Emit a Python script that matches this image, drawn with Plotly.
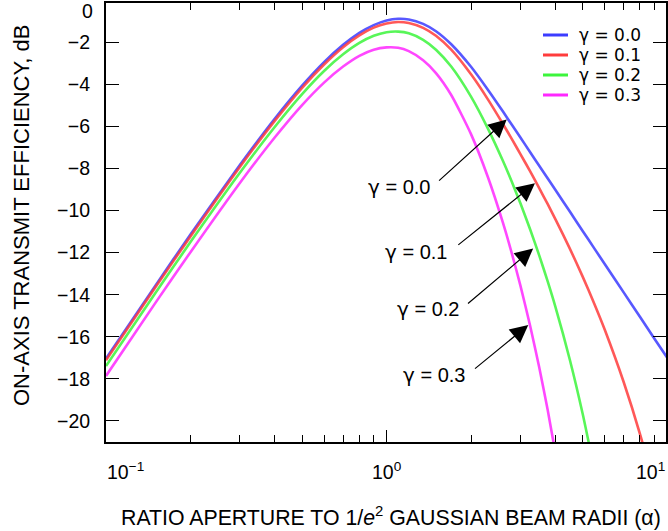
import math
import plotly.graph_objects as go

# Aperture-to-beam radius ratio (alpha) sample points
alpha = [0.1, 0.15, 0.2, 0.3, 0.4, 0.5, 0.6, 0.7, 0.8, 0.9, 1.0, 1.1, 1.2, 1.35,
         1.5, 1.7, 2.0, 2.3, 2.6, 2.8, 3.0, 3.25, 3.5, 3.75, 4.0, 4.5, 5.0, 5.5,
         6.0, 7.0, 8.0, 9.0, 10.0]

# On-axis transmit efficiency (dB) for each central obscuration ratio gamma
eff_g00 = [-17.03, -13.57, -11.14, -7.84, -5.63, -4.07, -2.94, -2.13, -1.56, -1.19,
           -0.97, -0.89, -0.92, -1.13, -1.48, -2.10, -3.17, -4.27, -5.30, -5.94,
           -6.53, -7.23, -7.87, -8.47, -9.03, -10.05, -10.97, -11.80, -12.55,
           -13.89, -15.05, -16.08, -16.99]
eff_g01 = [-17.12, -13.65, -11.23, -7.93, -5.73, -4.17, -3.05, -2.24, -1.68, -1.31,
           -1.11, -1.04, -1.09, -1.32, -1.70, -2.36, -3.53, -4.73, -5.89, -6.62,
           -7.32, -8.14, -8.94, -9.69, -10.42, -11.81, -13.14, -14.43, -15.68,
           -18.15, -20.61, -23.11, None]
eff_g02 = [-17.39, -13.92, -11.50, -8.21, -6.02, -4.47, -3.36, -2.58, -2.04, -1.70,
           -1.53, -1.50, -1.58, -1.89, -2.36, -3.16, -4.59, -6.12, -7.65, -8.66,
           -9.66, -10.90, -12.13, -13.36, -14.59, -17.09, -19.66, -22.31, None,
           None, None, None, None]
eff_g03 = [-17.86, -14.39, -11.98, -8.69, -6.52, -4.99, -3.91, -3.16, -2.65, -2.36,
           -2.25, -2.27, -2.43, -2.86, -3.47, -4.51, -6.37, -8.43, -10.59, -12.07,
           -13.57, -15.49, -17.45, -19.46, -21.54, None, None, None, None,
           None, None, None, None]

series = [eff_g00, eff_g01, eff_g02, eff_g03]
gamma_values = ["0.0", "0.1", "0.2", "0.3"]
colors = ["rgb(60,60,255)", "rgb(255,60,60)", "rgb(60,245,60)", "rgb(255,40,255)"]

y_ticks = [-20, -18, -16, -14, -12, -10, -8, -6, -4, -2]
x_major = [0.1, 1, 10]
x_major_text = ["10<sup>−1</sup>", "10<sup>0</sup>", "10<sup>1</sup>"]
x_minor = [0.2, 0.3, 0.4, 0.5, 0.6, 0.7, 0.8, 0.9, 2, 3, 4, 5, 6, 7, 8, 9]

# Callout arrows: head (alpha, dB), tail offset in px from head, start standoff px
callouts = [
    (2.68, -5.67, -75, 68, 10),
    (3.38, -8.71, -86, 69, 12),
    (3.33, -11.80, -72, 61, 9),
    (3.20, -15.44, -61, 50, 10),
]

FONT = "Liberation Sans, Arial, Helvetica, sans-serif"
LEGEND_FONT = "DejaVu Sans, Liberation Sans, sans-serif"
GAMMA = '<span style="font-family:DejaVu Sans">γ</span>'
W, H = 668, 531
ML, MR, MT, MB = 106, 2, 3, 89
PW, PH = W - ML - MR, H - MT - MB


def px_x(px):
    return (px - ML) / PW


def px_y(py):
    return (H - MB - py) / PH


def gamma_label(v):
    return f"{GAMMA} = {v}"


fig = go.Figure()
for vals, gv, color in zip(series, gamma_values, colors):
    fig.add_trace(go.Scatter(
        x=alpha, y=vals, mode="lines", name=f"γ = {gv}",
        line=dict(color=color, width=2.6, shape="spline", smoothing=0.6),
        opacity=0.85, connectgaps=False, showlegend=False,
    ))

annotations = []

# legend block: compact rows, 20 px apart
for i, (gv, color) in enumerate(zip(gamma_values, colors)):
    row_y = 35 + 20 * i
    fig.add_shape(type="line", xref="paper", yref="paper",
                  x0=px_x(543), x1=px_x(568), y0=px_y(row_y), y1=px_y(row_y),
                  line=dict(color=color, width=3))
    annotations.append(dict(xref="paper", yref="paper", x=px_x(578), y=px_y(row_y),
                            text=f"γ = {gv}", showarrow=False, xanchor="left",
                            yanchor="middle", borderpad=0,
                            font=dict(size=17, color="black", family=LEGEND_FONT)))

# callouts: label box anchored at the arrow tail
for gv, (ha, hy, dx, dy, so) in zip(gamma_values, callouts):
    annotations.append(dict(xref="x", yref="y", x=math.log10(ha), y=hy,
                            text=gamma_label(gv), showarrow=True, ax=dx, ay=dy,
                            xanchor="right", yanchor="middle", startstandoff=so,
                            arrowhead=2, arrowsize=3.0, arrowwidth=1.2,
                            arrowcolor="black",
                            font=dict(size=20, color="black", family=FONT)))

# x tick labels
anchors = ["left", "center", "right"]
xpos = [px_x(105), px_x(386.6), px_x(667)]
for t, xa, xp in zip(x_major_text, anchors, xpos):
    annotations.append(dict(xref="paper", yref="paper", x=xp, y=px_y(471), text=t,
                            showarrow=False, xanchor=xa, yanchor="middle",
                            font=dict(size=19.5, color="black", family=FONT)))

# y label for zero at the top edge
annotations.append(dict(xref="paper", yref="paper", x=px_x(94), y=px_y(10.5), text="0",
                        showarrow=False, xanchor="right", yanchor="middle",
                        borderpad=0,
                        font=dict(size=19.5, color="black", family=FONT)))

# axis titles
annotations.append(dict(xref="paper", yref="paper", x=px_x(391), y=px_y(516),
                        text="RATIO APERTURE TO 1/<i>e</i><sup>2</sup> GAUSSIAN BEAM RADII (α)",
                        showarrow=False, xanchor="center", yanchor="middle",
                        font=dict(size=21.3, color="black", family=FONT)))
annotations.append(dict(xref="paper", yref="paper", x=px_x(22), y=px_y(216),
                        text="ON-AXIS TRANSMIT EFFICIENCY, dB", textangle=-90,
                        showarrow=False, xanchor="center", yanchor="middle",
                        font=dict(size=22, color="black", family=FONT)))

fig.update_layout(
    width=W, height=H,
    margin=dict(l=ML, r=MR, t=MT, b=MB, autoexpand=False),
    paper_bgcolor="white", plot_bgcolor="white",
    font=dict(family=FONT, color="black", size=19.5),
    annotations=annotations,
    showlegend=False,
)
fig.update_xaxes(
    type="log", range=[-1.0, 0.996],
    tickvals=x_major, showticklabels=False,
    ticks="inside", ticklen=12, tickwidth=1.3, tickcolor="black",
    minor=dict(tickvals=x_minor, ticks="inside", ticklen=7, tickwidth=1.3, tickcolor="black"),
    showline=True, linecolor="black", linewidth=2, mirror="allticks",
    showgrid=False, zeroline=False,
)
fig.update_yaxes(
    range=[-21, -0.14], tickvals=y_ticks,
    ticks="inside", ticklen=13, tickwidth=1.3, tickcolor="black",
    ticklabelstandoff=10,
    tickfont=dict(size=19.5, family=FONT, color="black"),
    showline=True, linecolor="black", linewidth=2, mirror="allticks",
    showgrid=False, zeroline=False,
)

fig.write_html("out.html")
